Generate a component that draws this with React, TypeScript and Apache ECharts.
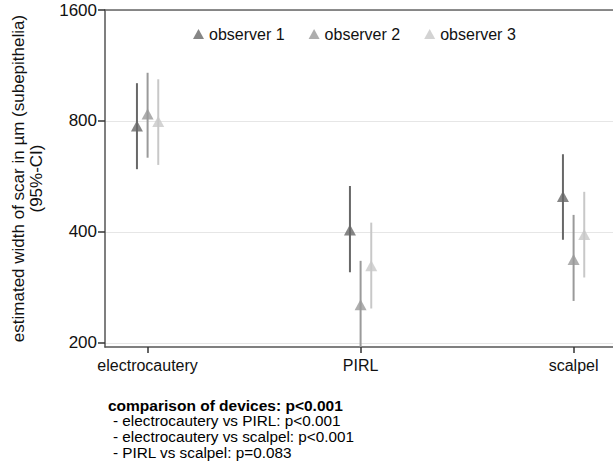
import React, { useEffect, useRef } from "react";
import * as echarts from "echarts";

const categories = ["electrocautery", "PIRL", "scalpel"];
const observers = ["observer 1", "observer 2", "observer 3"];
const colors = ["#686868", "#9a9a9a", "#c8c8c8"];

const obs1Mean = [775, 405, 499];
const obs1Lower = [592, 311, 381];
const obs1Upper = [1013, 533, 650];

const obs2Mean = [836, 254, 337];
const obs2Lower = [636, 190, 260];
const obs2Upper = [1081, 334, 445];

const obs3Mean = [797, 324, 394];
const obs3Lower = [608, 248, 301];
const obs3Upper = [1038, 424, 514];

const yTicks = [200, 400, 800, 1600];
const yMin = 195;
const yMax = 1600;

const noteTitle = "comparison of devices: p<0.001";
const noteLines = [
  "- electrocautery vs PIRL: p<0.001",
  "- electrocautery vs scalpel: p<0.001",
  "- PIRL vs scalpel: p=0.083",
];

const means = [obs1Mean, obs2Mean, obs3Mean];
const lowers = [obs1Lower, obs2Lower, obs3Lower];
const uppers = [obs1Upper, obs2Upper, obs3Upper];
const offsets = [-0.05, 0, 0.05];

const FONT = "Liberation Sans, Arial, Helvetica, sans-serif";

export default function App() {
  const ref = useRef<HTMLDivElement>(null);
  useEffect(() => {
    if (!ref.current) return;
    const chart = echarts.init(ref.current, undefined, { renderer: "svg" });
    const series: any[] = [];
    observers.forEach((name, i) => {
      series.push({
        name: name + " CI",
        type: "custom",
        clip: true,
        xAxisIndex: 0,
        encode: { x: 0, y: [1, 2] },
        data: categories.map((_, c) => [
          c + offsets[i],
          Math.log2(lowers[i][c]),
          Math.log2(uppers[i][c]),
        ]),
        renderItem: (params: any, api: any) => {
          const x = api.value(0);
          const lo = api.coord([x, api.value(1)]);
          const hi = api.coord([x, api.value(2)]);
          return {
            type: "line",
            shape: { x1: lo[0], y1: lo[1], x2: hi[0], y2: hi[1] },
            style: { stroke: colors[i], lineWidth: 2 },
          };
        },
        z: 2,
      });
    });
    observers.forEach((name, i) => {
      series.push({
        name,
        type: "scatter",
        xAxisIndex: 0,
        symbol: "triangle",
        symbolSize: [12, 11],
        itemStyle: { color: colors[i] },
        data: categories.map((_, c) => [c + offsets[i], Math.log2(means[i][c])]),
        z: 3,
      });
    });

    chart.setOption({
      animation: false,
      textStyle: { fontFamily: FONT },
      legend: {
        data: observers.map((n, i) => ({ name: n, itemStyle: { color: colors[i] } })),
        left: 188,
        top: 21,
        icon: "triangle",
        itemWidth: 11,
        itemHeight: 10,
        itemGap: 24,
        textStyle: { fontSize: 16, color: "#111", fontFamily: FONT },
      },
      grid: { left: 105, right: 0, top: 10, bottom: 118, containLabel: false },
      xAxis: [
        {
          type: "value",
          min: -0.2,
          max: 2.185,
          axisLine: { show: true, onZero: false, lineStyle: { color: "#555", width: 1.5 } },
          axisTick: {
            show: true,
            customValues: [0, 1, 2],
            length: 6,
            lineStyle: { color: "#333", width: 1.5 },
          },
          axisLabel: {
            customValues: [0, 1, 2],
            formatter: (v: number) => categories[Math.round(v)],
            fontSize: 16,
            color: "#111",
            margin: 10,
            fontFamily: FONT,
          },
          splitLine: { show: false },
        },
        {
          type: "value",
          position: "top",
          min: -0.2,
          max: 2.185,
          axisLine: { show: true, onZero: false, lineStyle: { color: "#666", width: 1.5 } },
          axisTick: { show: false },
          axisLabel: { show: false },
          splitLine: { show: false },
        },
      ],
      yAxis: {
        type: "value",
        min: Math.log2(yMin),
        max: Math.log2(yMax),
        name: "estimated width of scar in µm (subepithelia)\n(95%-CI)",
        nameLocation: "middle",
        nameGap: 60,
        nameTextStyle: { fontSize: 17, color: "#111", lineHeight: 18, fontFamily: FONT },
        axisLine: { show: true, onZero: false, lineStyle: { color: "#555", width: 1.5 } },
        axisTick: {
          show: true,
          customValues: yTicks.map((v) => Math.log2(v)),
          length: 7,
          lineStyle: { color: "#333", width: 1.5 },
        },
        axisLabel: {
          customValues: yTicks.map((v) => Math.log2(v)),
          formatter: (v: number) => String(Math.round(Math.pow(2, v))),
          fontSize: 17,
          color: "#111",
          margin: 8,
          fontFamily: FONT,
        },
        splitLine: { show: true, lineStyle: { color: "#e6e6e6", width: 1 } },
      },
      graphic: [
        {
          type: "text",
          left: 108,
          top: 397,
          style: { text: noteTitle, font: `bold 15.5px ${FONT}`, fill: "#000" },
        },
        ...noteLines.map((t, k) => ({
          type: "text",
          left: 113,
          top: 413 + k * 16,
          style: { text: t, font: `15.3px ${FONT}`, fill: "#000" },
        })),
      ],
      series,
    });
    return () => chart.dispose();
  }, []);
  return (
    <div
      ref={ref}
      style={{ position: "absolute", left: 0, top: 0, width: 613, height: 465 }}
    />
  );
}
